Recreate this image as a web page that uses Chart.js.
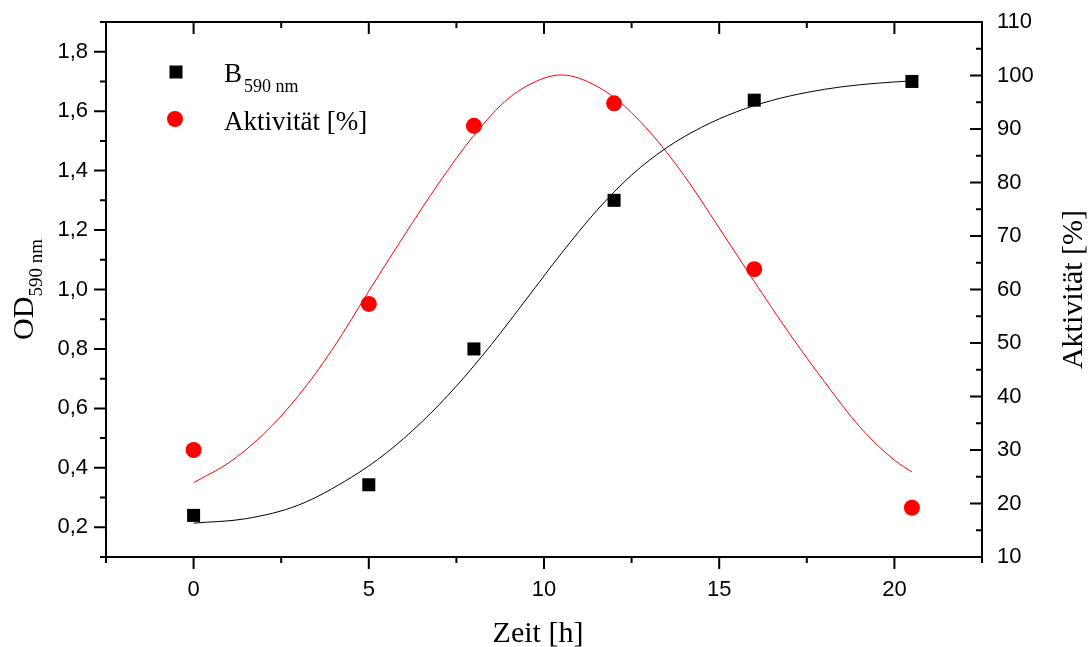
<!DOCTYPE html>
<html>
<head>
<meta charset="utf-8">
<script src="https://cdn.jsdelivr.net/npm/chart.js@4.4.0/dist/chart.umd.min.js"></script>
<style>
  html, body { margin: 0; padding: 0; background: #fff; }
  #wrap { width: 1089px; height: 647px; }
</style>
</head>
<body>
<div id="wrap"><canvas id="myChart" width="1089" height="647"></canvas></div>
<script>
// measured points
const timeH = [0, 5, 8, 12, 16, 20.5];
const od590 = [0.24, 0.343, 0.80, 1.30, 1.637, 1.70];
const activity = [30.0, 57.3, 90.6, 94.8, 63.8, 19.2];

// fit curves
const odFitTime = [0, 1.5, 3, 4.5, 5.5, 6.5, 7.5, 8.5, 9.5, 10.5, 11.5, 12.5, 13.5, 14.5, 15.5, 16.5, 17.5, 18.5, 19.5, 20.5];
const odFit = [0.214, 0.229, 0.275, 0.368, 0.450, 0.553, 0.675, 0.815, 0.968, 1.122, 1.265, 1.385, 1.477, 1.546, 1.598, 1.636, 1.663, 1.682, 1.694, 1.702];
const actFitTime = [0, 1, 2, 3, 4, 5, 6, 7, 8, 9, 10, 10.5, 11, 12, 13, 14, 15, 16, 17, 18, 19, 20, 20.5];
const actFit = [23.9, 27.6, 33.0, 40.2, 49.2, 59.7, 70.0, 79.9, 88.8, 95.8, 99.5, 100.1, 99.5, 95.9, 89.6, 81.3, 71.5, 61.5, 51.8, 42.8, 34.4, 28.1, 25.9];

// axis ticks
const timeTicks = [0, 5, 10, 15, 20];
const timeMinor = [-2.5, 2.5, 7.5, 12.5, 17.5, 22.5];
const odTicks = [0.2, 0.4, 0.6, 0.8, 1.0, 1.2, 1.4, 1.6, 1.8];
const odMinor = [0.1, 0.3, 0.5, 0.7, 0.9, 1.1, 1.3, 1.5, 1.7, 1.9];
const actTicks = [10, 20, 30, 40, 50, 60, 70, 80, 90, 100, 110];
const actMinor = [15, 25, 35, 45, 55, 65, 75, 85, 95, 105];

const xy = (xs, ys) => xs.map((x, i) => ({ x: x, y: ys[i] }));
const tickFont = { family: 'Liberation Sans', size: 22 };
const serif = 'Liberation Serif';

// frame, inward/outward tick marks, axis titles, legend
const decorations = {
  id: 'decorations',
  afterDraw(chart) {
    const c = chart.ctx;
    const a = chart.chartArea;
    const sx = chart.scales.x, sy = chart.scales.y, sy1 = chart.scales.y1;
    c.save();
    c.strokeStyle = '#000';
    c.lineWidth = 2;
    c.strokeRect(a.left, a.top, a.right - a.left, a.bottom - a.top);

    c.beginPath();
    const xt = (vals, len) => vals.forEach(v => {
      const px = sx.getPixelForValue(v);
      c.moveTo(px, a.bottom); c.lineTo(px, a.bottom + len);
      c.moveTo(px, a.top); c.lineTo(px, a.top + len);
    });
    xt(timeTicks, 12); xt(timeMinor, 6);
    const yt = (vals, len) => vals.forEach(v => {
      const py = sy.getPixelForValue(v);
      c.moveTo(a.left - len, py); c.lineTo(a.left, py);
    });
    yt(odTicks, 12); yt(odMinor, 6);
    const y1t = (vals, len) => vals.forEach(v => {
      const py = sy1.getPixelForValue(v);
      c.moveTo(a.right - len, py); c.lineTo(a.right, py);
    });
    y1t(actTicks, 12); y1t(actMinor, 6);
    c.stroke();

    c.fillStyle = '#000';
    c.textBaseline = 'alphabetic';

    // x title
    c.font = '30px ' + serif;
    c.textAlign = 'center';
    c.fillText('Zeit [h]', 538, 642);

    // left title, rotated, with subscript
    const midY = (a.top + a.bottom) / 2;
    c.save();
    c.translate(33, midY);
    c.rotate(-Math.PI / 2);
    c.textAlign = 'left';
    c.font = '30px ' + serif;
    const wOD = c.measureText('OD').width;
    c.font = '19px ' + serif;
    const wSub = c.measureText('590 nm').width;
    const x0 = -(wOD + wSub) / 2;
    c.font = '30px ' + serif;
    c.fillText('OD', x0, 0);
    c.font = '19px ' + serif;
    c.fillText('590 nm', x0 + wOD, 9);
    c.restore();

    // right title
    c.save();
    c.translate(1082, midY);
    c.rotate(-Math.PI / 2);
    c.textAlign = 'center';
    c.font = '30px ' + serif;
    c.fillText('Aktivit\u00e4t [%]', 0, 0);
    c.restore();

    // legend
    c.fillStyle = '#000';
    c.fillRect(176 - 6.5, 72 - 6.5, 13, 13);
    c.fillStyle = '#ff0000';
    c.beginPath();
    c.arc(175, 119, 8, 0, Math.PI * 2);
    c.fill();
    c.fillStyle = '#000';
    c.textAlign = 'left';
    c.font = '27px ' + serif;
    c.fillText('B', 224, 82);
    const wB = c.measureText('B').width;
    c.font = '18px ' + serif;
    c.fillText('590 nm', 224 + wB + 2, 92);
    c.font = '27px ' + serif;
    c.fillText('Aktivit\u00e4t [%]', 224, 130);
    c.restore();
  }
};

const fixY = w => s => { s.width = w; s.paddingTop = 0; s.paddingBottom = 0; };

const config = {
  type: 'scatter',
  data: {
    datasets: [
      {
        label: 'B590 nm',
        data: xy(timeH, od590),
        yAxisID: 'y',
        pointStyle: 'rect',
        pointRadius: 9.2,
        pointHoverRadius: 9.2,
        backgroundColor: '#000',
        borderColor: '#000',
        borderWidth: 0,
        showLine: false
      },
      {
        label: 'Aktivität [%]',
        data: xy(timeH, activity),
        yAxisID: 'y1',
        pointStyle: 'circle',
        pointRadius: 8,
        pointHoverRadius: 8,
        backgroundColor: '#ff0000',
        borderColor: '#ff0000',
        borderWidth: 0,
        showLine: false
      },
      {
        label: 'OD fit',
        data: xy(odFitTime, odFit),
        yAxisID: 'y',
        showLine: true,
        pointRadius: 0,
        borderColor: '#000',
        borderWidth: 1,
        cubicInterpolationMode: 'monotone'
      },
      {
        label: 'Aktivität fit',
        data: xy(actFitTime, actFit),
        yAxisID: 'y1',
        showLine: true,
        pointRadius: 0,
        borderColor: '#ff0000',
        borderWidth: 1,
        cubicInterpolationMode: 'monotone'
      }
    ]
  },
  options: {
    responsive: false,
    animation: false,
    layout: { padding: { top: 22, left: 0, right: 0, bottom: 0 } },
    plugins: {
      legend: { display: false },
      tooltip: { enabled: false }
    },
    scales: {
      x: {
        type: 'linear',
        position: 'bottom',
        min: -2.5,
        max: 22.5,
        grid: { display: false, drawTicks: false },
        border: { display: false },
        afterBuildTicks: s => { s.ticks = timeTicks.map(v => ({ value: v })); },
        afterFit: s => { s.height = 90; s.paddingLeft = 0; s.paddingRight = 0; },
        ticks: { font: tickFont, color: '#000', padding: 20, maxRotation: 0, callback: v => String(v) }
      },
      y: {
        type: 'linear',
        position: 'left',
        min: 0.1,
        max: 1.9,
        grid: { display: false, drawTicks: false },
        border: { display: false },
        afterBuildTicks: s => { s.ticks = odTicks.map(v => ({ value: v })); },
        afterFit: fixY(106),
        ticks: { font: tickFont, color: '#000', padding: 18, callback: v => v.toFixed(1).replace('.', ',') }
      },
      y1: {
        type: 'linear',
        position: 'right',
        min: 10,
        max: 110,
        grid: { display: false, drawTicks: false },
        border: { display: false },
        afterBuildTicks: s => { s.ticks = actTicks.map(v => ({ value: v })); },
        afterFit: fixY(107),
        ticks: { font: tickFont, color: '#000', padding: 15, callback: v => String(v) }
      }
    }
  },
  plugins: [decorations]
};

new Chart(document.getElementById('myChart'), config);
</script>
</body>
</html>
